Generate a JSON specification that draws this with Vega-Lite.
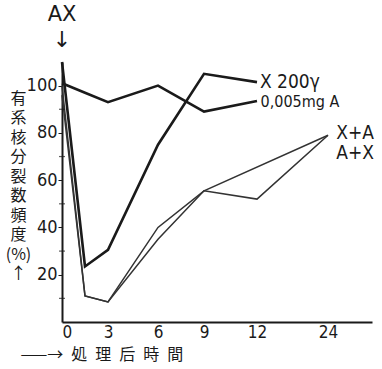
{
  "$schema": "https://vega.github.io/schema/vega-lite/v6.json",
  "width": 310,
  "height": 260,
  "autosize": {"type": "none"},
  "padding": {"left": 62, "top": 62, "right": 10, "bottom": 47},
  "background": "white",
  "config": {"view": {"stroke": null}, "font": "DejaVu Sans Condensed"},
  "datasets": {
    "lines": [
      {"series": "X200", "t": 0, "v": 110},
      {"series": "X200", "t": 1.5, "v": 23.5},
      {"series": "X200", "t": 3, "v": 30.5},
      {"series": "X200", "t": 6, "v": 75},
      {"series": "X200", "t": 9, "v": 105},
      {"series": "X200", "t": 12, "v": 101.5},
      {"series": "A", "t": 0, "v": 101},
      {"series": "A", "t": 1.5, "v": 97},
      {"series": "A", "t": 3, "v": 93},
      {"series": "A", "t": 6, "v": 100},
      {"series": "A", "t": 9, "v": 89},
      {"series": "A", "t": 12, "v": 93.5},
      {"series": "XA", "t": 0, "v": 100},
      {"series": "XA", "t": 1.5, "v": 11},
      {"series": "XA", "t": 3, "v": 8.5},
      {"series": "XA", "t": 6, "v": 40},
      {"series": "XA", "t": 9, "v": 55.5},
      {"series": "XA", "t": 24, "v": 79},
      {"series": "AX", "t": 0, "v": 96},
      {"series": "AX", "t": 1.5, "v": 11},
      {"series": "AX", "t": 3, "v": 8.5},
      {"series": "AX", "t": 6, "v": 35},
      {"series": "AX", "t": 9, "v": 55.5},
      {"series": "AX", "t": 12, "v": 52},
      {"series": "AX", "t": 24, "v": 79}
    ],
    "labels": [
      {"t": 12.5, "v": 101.7, "text": "X 200γ", "size": 19},
      {"t": 12.6, "v": 93.2, "text": "0,005mg A", "size": 16},
      {"t": 25.4, "v": 80, "text": "X+A", "size": 19},
      {"t": 25.4, "v": 71.6, "text": "A+X", "size": 19}
    ],
    "top": [
      {"t": 0, "v": 130, "text": "AX", "size": 21},
      {"t": 0, "v": 119.5, "text": "↓", "size": 22}
    ],
    "minor": [
      {"t": 0, "v": 10},
      {"t": 0, "v": 30},
      {"t": 0, "v": 50},
      {"t": 0, "v": 70},
      {"t": 0, "v": 90}
    ]
  },
  "layer": [
    {
      "data": {"name": "lines"},
      "transform": [{"filter": "datum.series == 'X200' || datum.series == 'A'"}],
      "mark": {"type": "line", "color": "#1a1a1a", "strokeWidth": 2.6, "strokeJoin": "miter"},
      "encoding": {
        "x": {
          "field": "t", "type": "quantitative",
          "scale": {"domain": [0, 3, 6, 9, 12, 24, 31.4], "range": [0, 46, 96, 142, 195, 266, 310], "nice": false, "zero": false},
          "axis": {
            "values": [0, 3, 6, 9, 12, 24],
            "grid": false, "ticks": false, "domainColor": "#1a1a1a", "domainWidth": 2,
            "labelFont": "DejaVu Sans Condensed", "labelFontSize": 17, "labelColor": "#1a1a1a", "labelPadding": 2,
            "title": "——→\u2002処\u2002理\u2002后\u2002時\u2002間", "titleFont": "Noto Sans CJK JP", "titleFontSize": 16, "titleFontWeight": "normal",
            "titleColor": "#1a1a1a", "titleAnchor": "start", "titleAlign": "left", "titleX": -42, "titleY": 24
          }
        },
        "y": {
          "field": "v", "type": "quantitative",
          "scale": {"domain": [0, 110], "nice": false},
          "axis": {
            "values": [20, 40, 60, 80, 100],
            "labelOverlap": false,
            "grid": false, "tickSize": 4, "tickColor": "#1a1a1a", "domainColor": "#1a1a1a", "domainWidth": 2,
            "labelFont": "DejaVu Sans Condensed", "labelFontSize": 18, "labelColor": "#1a1a1a", "labelPadding": 1,
            "title": ["有", "系", "核", "分", "裂", "数", "頻", "度", "(%)", "\u3000", "↑"],
            "titleFont": "Noto Sans CJK JP", "titleFontSize": 16, "titleFontWeight": "normal", "titleLineHeight": 19.5,
            "titleColor": "#1a1a1a", "titleAngle": 0, "titleAlign": "center", "titleBaseline": "top",
            "titleX": -44, "titleY": 28
          }
        },
        "detail": {"field": "series"}
      }
    },
    {
      "data": {"name": "lines"},
      "transform": [{"filter": "datum.series == 'XA' || datum.series == 'AX'"}],
      "mark": {"type": "line", "color": "#333333", "strokeWidth": 1.5},
      "encoding": {
        "x": {"field": "t", "type": "quantitative"},
        "y": {"field": "v", "type": "quantitative"},
        "detail": {"field": "series"}
      }
    },
    {
      "data": {"name": "minor"},
      "mark": {"type": "tick", "orient": "horizontal", "color": "#1a1a1a", "size": 6, "thickness": 1.2},
      "encoding": {
        "x": {"field": "t", "type": "quantitative"},
        "y": {"field": "v", "type": "quantitative"}
      }
    },
    {
      "data": {"name": "labels"},
      "mark": {"type": "text", "align": "left", "baseline": "middle", "color": "#1a1a1a", "font": "DejaVu Sans Condensed"},
      "encoding": {
        "x": {"field": "t", "type": "quantitative"},
        "y": {"field": "v", "type": "quantitative"},
        "text": {"field": "text"},
        "size": {"field": "size", "type": "quantitative", "scale": null}
      }
    },
    {
      "data": {"name": "top"},
      "mark": {"type": "text", "align": "center", "baseline": "middle", "color": "#1a1a1a", "font": "DejaVu Sans", "clip": false},
      "encoding": {
        "x": {"field": "t", "type": "quantitative"},
        "y": {"field": "v", "type": "quantitative"},
        "text": {"field": "text"},
        "size": {"field": "size", "type": "quantitative", "scale": null}
      }
    }
  ]
}
